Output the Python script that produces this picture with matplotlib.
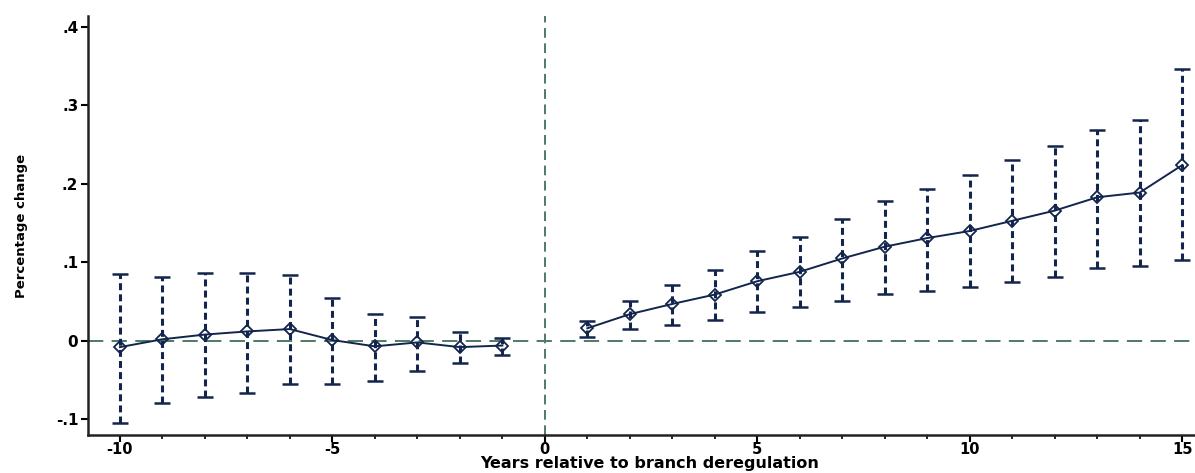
import matplotlib
matplotlib.use("Agg")
import matplotlib.pyplot as plt
import numpy as np

# ---- data ----
years_pre = [-10, -9, -8, -7, -6, -5, -4, -3, -2, -1]
coef_pre = [-0.008, 0.002, 0.008, 0.012, 0.015, 0.001, -0.007, -0.002, -0.008, -0.006]
upper_pre = [0.085, 0.082, 0.087, 0.087, 0.084, 0.055, 0.034, 0.031, 0.011, 0.003]
lower_pre = [-0.105, -0.079, -0.072, -0.066, -0.055, -0.055, -0.051, -0.038, -0.028, -0.018]

years_post = [1, 2, 3, 4, 5, 6, 7, 8, 9, 10, 11, 12, 13, 14, 15]
coef_post = [0.016, 0.034, 0.047, 0.059, 0.076, 0.088, 0.105, 0.120, 0.131, 0.140,
             0.153, 0.166, 0.183, 0.189, 0.224]
upper_post = [0.025, 0.051, 0.071, 0.090, 0.114, 0.132, 0.155, 0.178, 0.194, 0.211,
              0.230, 0.248, 0.269, 0.282, 0.346]
lower_post = [0.005, 0.015, 0.020, 0.026, 0.037, 0.043, 0.051, 0.060, 0.064, 0.068,
              0.075, 0.082, 0.093, 0.095, 0.103]

xticks = [-10, -5, 0, 5, 10, 15]
xticklabels = ["-10", "-5", "0", "5", "10", "15"]
yticks = [-0.1, 0.0, 0.1, 0.2, 0.3, 0.4]
yticklabels = ["-.1", "0", ".1", ".2", ".3", ".4"]

plt.rcParams['font.family'] = ['DejaVu Sans']
plt.rcParams['lines.scale_dashes'] = False

navy = "#13254d"
refc = "#4f7a66"

fig = plt.figure(figsize=(11.95, 4.73), dpi=100)
ax = fig.add_axes([88/1195, 38/473, 1 - 88/1195, (435-16)/473])

ax.axhline(0, color=refc, lw=1.4, ls=(0, (11, 6)), zorder=1)
ax.axvline(0, color=refc, lw=1.4, ls=(0, (7, 4)), zorder=1)

for yrs, c, up, lo in [(years_pre, coef_pre, upper_pre, lower_pre),
                       (years_post, coef_post, upper_post, lower_post)]:
    yrs = np.array(yrs); c = np.array(c); up = np.array(up); lo = np.array(lo)
    eb = ax.errorbar(yrs, c, yerr=[c - lo, up - c], fmt='none', ecolor=navy,
                     elinewidth=2.2, capsize=5.5, capthick=1.8, zorder=2)
    eb[2][0].set_linestyle((0, (5, 3)))
    ax.plot(yrs, c, color=navy, lw=1.4, marker='D', markersize=6.5,
            markerfacecolor='none', markeredgecolor=navy, markeredgewidth=1.3, zorder=3)

ax.set_xlim(-10.75, 15.3)
ax.set_ylim(-0.12, 0.414)

ax.set_xticks(xticks)
ax.set_xticklabels(xticklabels)
ax.set_xticks(range(-10, 16), minor=True)
ax.set_yticks(yticks)
ax.set_yticklabels(yticklabels)

for s in ['top', 'right']:
    ax.spines[s].set_visible(False)
for s in ['left', 'bottom']:
    ax.spines[s].set_linewidth(1.8)
    ax.spines[s].set_color('#222222')

ax.tick_params(axis='both', which='major', length=5, width=1.5, direction='out',
               labelsize=11, pad=2)
ax.tick_params(axis='x', which='major', pad=0, labelsize=10.5)
ax.tick_params(axis='x', which='minor', length=3, width=1.2, direction='out')
for lab in ax.get_xticklabels() + ax.get_yticklabels():
    lab.set_fontweight('bold')

ax.set_xlabel("Years relative to branch deregulation", fontsize=11.5,
              fontweight='bold')
ax.xaxis.set_label_coords(650/1195, (473-463)/473, transform=fig.transFigure)
ax.xaxis.label.set_va('center')
ax.set_ylabel("Percentage change", fontsize=9.5, fontweight='bold')
ax.yaxis.set_label_coords(22/1195, 1 - 226/473, transform=fig.transFigure)
ax.yaxis.label.set_va('center')

fig.savefig("out.png", dpi=100)
